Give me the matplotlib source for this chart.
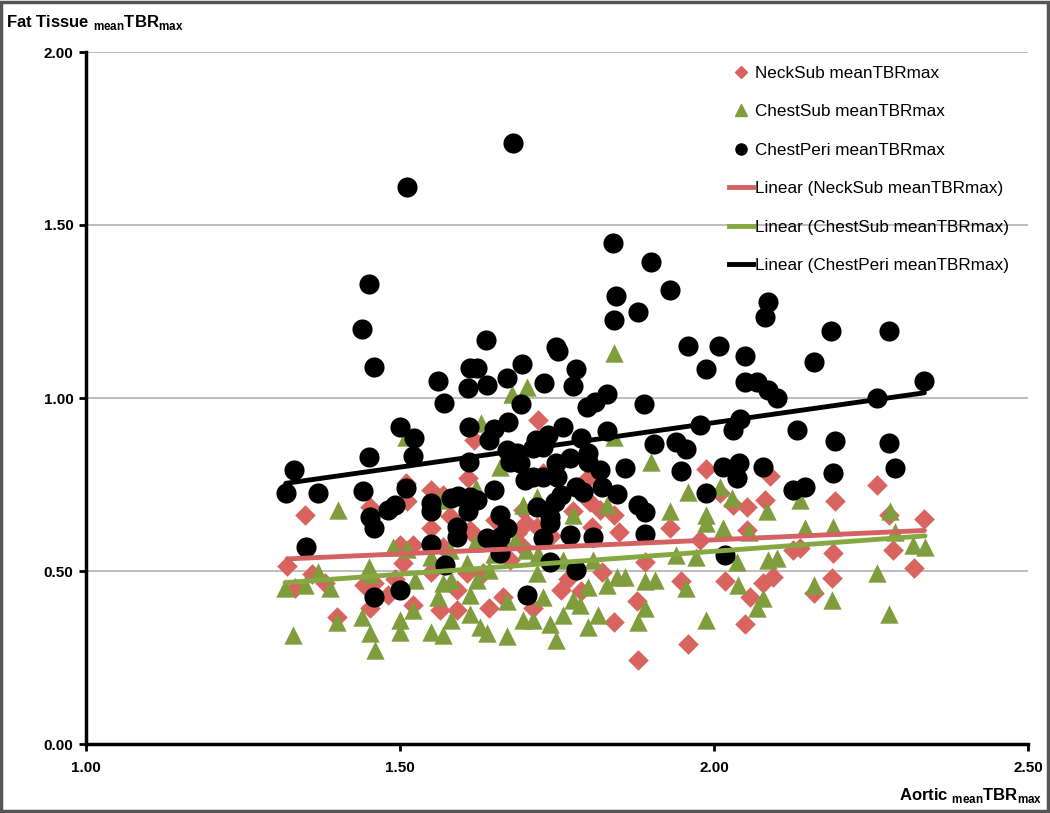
import matplotlib
matplotlib.use("Agg")
import matplotlib.pyplot as plt
from matplotlib.lines import Line2D
from matplotlib.patches import Rectangle
import numpy as np

plt.rcParams['font.family'] = ['Liberation Sans', 'DejaVu Sans']
plt.rcParams['mathtext.fontset'] = 'custom'
plt.rcParams['mathtext.rm'] = 'Liberation Sans:bold'
plt.rcParams['mathtext.bf'] = 'Liberation Sans:bold'

# ---------------- data ----------------
peri_x = [1.680, 1.511, 1.451, 1.440, 1.637, 1.459, 1.561, 1.611, 1.622, 1.609,
          1.638, 1.670, 1.695, 1.570, 1.692, 1.672, 1.610, 1.650, 1.641, 1.500,
          1.523, 1.451, 1.520, 1.331, 1.318, 1.370, 1.441, 1.510, 1.610, 1.670,
          1.686, 1.675, 1.691, 1.699, 1.650, 1.550, 1.582, 1.593, 1.611, 1.622,
          1.481, 1.492, 1.452, 1.459, 1.550, 1.609, 1.659, 1.839, 1.900, 1.930,
          1.844, 1.879, 1.840, 2.086, 2.082, 1.749, 1.751, 1.959, 2.008, 2.049,
          2.049, 2.068, 2.086, 2.100, 1.988, 1.780, 1.729, 1.775, 1.829, 1.811,
          1.798, 1.889, 1.978, 2.041, 2.030, 2.132, 1.829, 1.760, 1.736, 1.717,
          1.789, 1.904, 1.940, 1.956, 1.712, 1.728, 1.771, 1.749, 1.800, 1.800,
          1.818, 1.859, 1.948, 2.015, 2.040, 2.036, 2.078, 2.126, 1.712, 1.728,
          1.750, 1.781, 1.792, 1.821, 1.846, 1.757, 1.747, 1.988, 1.879, 1.890,
          1.718, 1.739, 2.187, 2.279, 2.159, 2.335, 2.259, 2.193, 2.279, 2.190,
          2.288, 2.145, 1.350, 1.459, 1.500, 1.550, 1.590, 1.590, 1.572, 1.638,
          1.659, 1.670, 1.659, 1.702, 1.739, 1.728, 1.770, 1.808, 1.890, 1.739,
          1.780, 2.017]
peri_y = [1.737, 1.610, 1.329, 1.198, 1.168, 1.090, 1.050, 1.087, 1.087, 1.028,
          1.038, 1.057, 1.097, 0.986, 0.983, 0.930, 0.917, 0.910, 0.879, 0.916,
          0.883, 0.829, 0.831, 0.792, 0.726, 0.726, 0.731, 0.739, 0.816, 0.850,
          0.840, 0.816, 0.811, 0.763, 0.734, 0.696, 0.710, 0.717, 0.715, 0.705,
          0.676, 0.690, 0.657, 0.625, 0.673, 0.673, 0.662, 1.449, 1.394, 1.312,
          1.296, 1.248, 1.225, 1.278, 1.233, 1.148, 1.136, 1.150, 1.150, 1.121,
          1.047, 1.047, 1.023, 0.999, 1.083, 1.084, 1.044, 1.035, 1.013, 0.989,
          0.973, 0.983, 0.922, 0.938, 0.908, 0.908, 0.905, 0.915, 0.893, 0.879,
          0.883, 0.867, 0.873, 0.852, 0.855, 0.858, 0.826, 0.811, 0.840, 0.816,
          0.792, 0.799, 0.788, 0.801, 0.811, 0.768, 0.801, 0.734, 0.773, 0.772,
          0.772, 0.744, 0.729, 0.744, 0.723, 0.720, 0.700, 0.724, 0.691, 0.671,
          0.686, 0.657, 1.195, 1.195, 1.105, 1.049, 0.999, 0.876, 0.869, 0.782,
          0.799, 0.744, 0.570, 0.426, 0.445, 0.579, 0.628, 0.599, 0.517, 0.594,
          0.599, 0.624, 0.551, 0.430, 0.638, 0.594, 0.604, 0.599, 0.607, 0.527,
          0.503, 0.546]

neck_x = [1.618, 1.609, 1.510, 1.550, 1.511, 1.452, 1.349, 1.696, 1.720, 1.800,
          1.728, 1.988, 2.089, 2.052, 2.081, 2.031, 2.010, 1.803, 1.776, 1.818,
          1.840, 1.320, 1.333, 1.381, 1.399, 1.442, 1.458, 1.500, 1.521, 1.505,
          1.492, 1.481, 1.452, 1.521, 1.550, 1.550, 1.569, 1.611, 1.564, 1.590,
          1.641, 1.606, 1.632, 1.664, 1.686, 1.696, 1.590, 1.675, 1.718, 1.805,
          1.848, 1.930, 1.978, 2.052, 2.126, 1.890, 1.768, 1.821, 1.948, 2.017,
          1.757, 1.789, 1.877, 2.057, 2.078, 2.094, 1.712, 1.840, 2.049, 1.959,
          1.879, 2.193, 2.259, 2.279, 2.335, 2.190, 2.285, 2.188, 2.318, 2.159,
          2.137, 1.651, 1.620, 1.660, 1.700, 1.740, 1.580, 1.569, 1.360, 2.126,
          2.190, 2.036]
neck_y = [0.879, 0.768, 0.753, 0.734, 0.703, 0.686, 0.662, 0.676, 0.936, 0.768,
          0.783, 0.794, 0.775, 0.686, 0.705, 0.691, 0.724, 0.700, 0.672, 0.676,
          0.662, 0.514, 0.450, 0.464, 0.368, 0.460, 0.464, 0.575, 0.575, 0.522,
          0.478, 0.430, 0.392, 0.402, 0.623, 0.498, 0.570, 0.618, 0.387, 0.387,
          0.392, 0.493, 0.494, 0.426, 0.609, 0.570, 0.445, 0.532, 0.628, 0.628,
          0.614, 0.623, 0.590, 0.618, 0.561, 0.527, 0.478, 0.498, 0.470, 0.470,
          0.445, 0.441, 0.412, 0.426, 0.464, 0.484, 0.392, 0.353, 0.347, 0.289,
          0.244, 0.702, 0.749, 0.662, 0.649, 0.553, 0.561, 0.481, 0.510, 0.436,
          0.566, 0.647, 0.600, 0.580, 0.640, 0.600, 0.660, 0.720, 0.490, 0.734,
          0.782, 0.768]

chest_x = [1.401, 1.510, 1.629, 1.679, 1.702, 1.659, 1.621, 1.566, 1.696, 1.840,
           1.840, 1.899, 1.959, 2.010, 2.028, 1.829, 1.718, 1.930, 1.988, 2.084,
           1.776, 1.330, 1.370, 1.349, 1.317, 1.389, 1.399, 1.439, 1.452, 1.460,
           1.450, 1.452, 1.489, 1.511, 1.500, 1.500, 1.521, 1.524, 1.550, 1.569,
           1.582, 1.561, 1.569, 1.582, 1.611, 1.611, 1.627, 1.638, 1.670, 1.670,
           1.641, 1.683, 1.696, 1.606, 1.622, 1.988, 2.015, 2.055, 2.036, 2.086,
           2.100, 1.940, 1.972, 1.890, 1.906, 1.956, 2.039, 1.858, 1.845, 1.829,
           1.800, 1.890, 1.879, 1.988, 2.078, 2.068, 1.800, 1.749, 1.816, 1.760,
           1.739, 1.776, 1.787, 1.712, 1.728, 1.718, 1.808, 1.760, 2.280, 2.145,
           2.190, 2.288, 2.317, 2.336, 2.259, 2.159, 2.188, 2.279, 2.137, 1.650,
           1.700, 1.720, 1.620, 1.550, 1.580]
chest_y = [0.676, 0.888, 0.927, 1.013, 1.032, 0.802, 0.739, 0.705, 0.691, 1.129,
           0.888, 0.816, 0.729, 0.744, 0.710, 0.691, 0.715, 0.673, 0.662, 0.673,
           0.662, 0.315, 0.498, 0.460, 0.450, 0.450, 0.353, 0.368, 0.320, 0.272,
           0.512, 0.490, 0.570, 0.565, 0.358, 0.325, 0.387, 0.474, 0.325, 0.315,
           0.358, 0.426, 0.464, 0.474, 0.430, 0.377, 0.339, 0.320, 0.311, 0.412,
           0.503, 0.590, 0.358, 0.522, 0.474, 0.638, 0.623, 0.614, 0.527, 0.532,
           0.537, 0.546, 0.541, 0.470, 0.474, 0.450, 0.460, 0.484, 0.484, 0.460,
           0.455, 0.392, 0.353, 0.358, 0.421, 0.392, 0.339, 0.301, 0.373, 0.373,
           0.347, 0.416, 0.402, 0.358, 0.426, 0.493, 0.532, 0.532, 0.673, 0.623,
           0.628, 0.614, 0.575, 0.568, 0.493, 0.460, 0.416, 0.377, 0.705, 0.550,
           0.560, 0.550, 0.580, 0.540, 0.560]

x_ticks = [1.00, 1.50, 2.00, 2.50]
y_ticks = [0.00, 0.50, 1.00, 1.50, 2.00]

labels = ["NeckSub meanTBRmax", "ChestSub meanTBRmax", "ChestPeri meanTBRmax"]

pink = '#d9645f'
green = '#7f9d3d'
black = '#000000'
pink_line = '#d46262'
green_line = '#86a843'

# ---------------- figure ----------------
fig = plt.figure(figsize=(10.5, 8.13), dpi=100)
ax = fig.add_axes([86/1050, 1-744/813, (1028-86)/1050, (744-52)/813])

ax.scatter(neck_x, neck_y, marker='D', s=110, color=pink, linewidths=0, zorder=3)
ax.scatter(chest_x, chest_y, marker='^', s=175, color=green, linewidths=0, zorder=4)
ax.scatter(peri_x, peri_y, marker='o', s=210, color=black, linewidths=0, zorder=5)

def trend(x, y, color, z):
    x = np.asarray(x); y = np.asarray(y)
    m, b = np.polyfit(x, y, 1)
    xs = np.array([x.min(), x.max()])
    ax.plot(xs, m*xs + b, color=color, lw=3.5, solid_capstyle='round', zorder=z)

trend(neck_x, neck_y, pink_line, 6)
trend(chest_x, chest_y, green_line, 7)
trend(peri_x, peri_y, black, 8)

ax.set_xlim(1.0, 2.5)
ax.set_ylim(0.0, 2.0)
ax.set_xticks(x_ticks)
ax.set_yticks(y_ticks)
ax.set_xticklabels([f"{v:.2f}" for v in x_ticks], fontsize=11, fontweight='bold')
ax.set_yticklabels([f"{v:.2f}" for v in y_ticks], fontsize=11, fontweight='bold')
ax.tick_params(axis='both', direction='out', length=5, width=2, color='black')
ax.tick_params(axis='x', pad=7)
ax.tick_params(axis='y', pad=4)

for s in ['top', 'right']:
    ax.spines[s].set_visible(False)
for s in ['left', 'bottom']:
    ax.spines[s].set_linewidth(2.5)
    ax.spines[s].set_color('black')
    ax.spines[s].set_zorder(10)

ax.yaxis.grid(True, color='#b8b8b8', lw=1.3, zorder=0)
ax.set_axisbelow(True)

# axis titles
fig.text(6/1050, 1-22/813, r"Fat Tissue $_{\mathrm{mean}}$TBR$_{\mathrm{max}}$",
         fontsize=12, fontweight='bold', ha='left', va='center')
fig.text(1042/1050, 1-795/813, r"Aortic $_{\mathrm{mean}}$TBR$_{\mathrm{max}}$",
         fontsize=12, fontweight='bold', ha='right', va='center')

# legend
handles = [
    Line2D([], [], marker='D', color=pink, ls='none', markersize=6),
    Line2D([], [], marker='^', color=green, ls='none', markersize=8),
    Line2D([], [], marker='o', color=black, ls='none', markersize=8),
    Line2D([], [], color=pink_line, lw=3.5),
    Line2D([], [], color=green_line, lw=3.5),
    Line2D([], [], color=black, lw=3.5),
]
leg_labels = labels + [f"Linear ({l})" for l in labels]
leg = ax.legend(handles, leg_labels, loc='upper left', bbox_to_anchor=(729/1050, 1-66/813),
                bbox_transform=fig.transFigure, frameon=False, fontsize=12.3,
                labelspacing=1.37, handlelength=1.42, handletextpad=0.1,
                borderpad=0, borderaxespad=0)

fig.patches.append(Rectangle((0.001, 0.002), 0.997, 0.996, transform=fig.transFigure,
                             fill=False, edgecolor='#555555', lw=2.5))

fig.savefig('out.png', dpi=100)
